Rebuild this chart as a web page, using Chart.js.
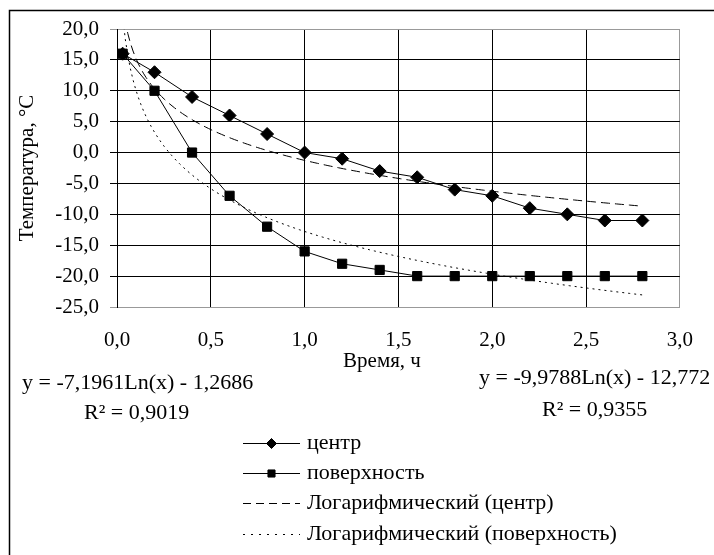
<!DOCTYPE html>
<html>
<head>
<meta charset="utf-8">
<script src="https://cdn.jsdelivr.net/npm/chart.js@4/dist/chart.umd.min.js"></script>
<style>
  html, body { margin: 0; padding: 0; background: #fff; }
</style>
</head>
<body>
<canvas id="tempChart" width="714" height="555"></canvas>
<script>
// время замера, ч
const hours = [0.03, 0.2, 0.4, 0.6, 0.8, 1.0, 1.2, 1.4, 1.6, 1.8, 2.0, 2.2, 2.4, 2.6, 2.8];
// температура в центре и на поверхности, °C
const centerTemp = [16, 13, 9, 6, 3, 0, -1, -3, -4, -6, -7, -9, -10, -11, -11];
const surfaceTemp = [16, 10, 0, -7, -12, -16, -18, -19, -20, -20, -20, -20, -20, -20, -20];
// логарифмические тренды y = a*Ln(x) + b
const centerTrendCoef = [-7.1961, -1.2686];
const surfaceTrendCoef = [-9.9788, -12.772];
const trendR2 = [0.9019, 0.9355];
const xTicks = [0, 3, 0.5];
const yTicks = [-25, 20, 5];

const FONT = 'Liberation Serif, Times New Roman, serif';
const fmt = v => v.toFixed(1).replace('.', ',');
const fmtCoef = v => String(v).replace('.', ',');

function toPoints(xs, ys) {
  return xs.map((x, i) => ({ x: x, y: ys[i] }));
}

// кривая тренда по коэффициентам из подписи
function trendPoints(coef) {
  const pts = [];
  const x0 = hours[0], x1 = hours[hours.length - 1];
  const n = 200;
  for (let i = 0; i <= n; i++) {
    const x = x0 + (x1 - x0) * i / n;
    pts.push({ x: x, y: coef[0] * Math.log(x) + coef[1] });
  }
  return pts;
}

function eqText(coef) {
  return 'y = ' + fmtCoef(coef[0]) + 'Ln(x) - ' + fmtCoef(Math.abs(coef[1]));
}

// подписи, легенда и рамка
const decorPlugin = {
  id: 'decor',
  afterDraw(chart) {
    const ctx = chart.ctx;
    ctx.save();
    ctx.strokeStyle = '#000';
    ctx.lineWidth = 1.5;
    ctx.strokeRect(9.5, 10.5, 760, 600);

    ctx.fillStyle = '#000';
    ctx.font = '21px ' + FONT;
    ctx.textBaseline = 'middle';

    // подпись оси X
    ctx.textAlign = 'center';
    ctx.fillText('Время, ч', 382, 361);

    // подпись оси Y
    ctx.save();
    ctx.translate(27, 168);
    ctx.rotate(-Math.PI / 2);
    ctx.fillText('Температура, °C', 0, 0);
    ctx.restore();

    // уравнения трендов
    ctx.font = '22px ' + FONT;
    ctx.textAlign = 'left';
    ctx.fillText(eqText(centerTrendCoef), 22, 383);
    ctx.fillText('R² = ' + fmtCoef(trendR2[0]), 84, 413);
    ctx.fillText(eqText(surfaceTrendCoef), 479, 378);
    ctx.fillText('R² = ' + fmtCoef(trendR2[1]), 542, 410);

    // легенда
    const rowY = [443, 473, 503, 534];
    chart.data.datasets.forEach((ds, i) => {
      const y = rowY[i];
      ctx.save();
      ctx.strokeStyle = ds.borderColor;
      ctx.lineWidth = 1;
      ctx.setLineDash(ds.legendDash || ds.borderDash || []);
      ctx.beginPath();
      ctx.moveTo(243, y + 0.5);
      ctx.lineTo(300, y + 0.5);
      ctx.stroke();
      ctx.restore();
      if (ds.pointRadius > 0) {
        ctx.save();
        ctx.fillStyle = ds.backgroundColor;
        ctx.strokeStyle = ds.borderColor;
        ctx.lineWidth = 1;
        Chart.helpers.drawPoint(ctx, {
          pointStyle: ds.pointStyle,
          radius: 5,
          rotation: 0,
          borderWidth: 1
        }, 271.5, y + 0.5);
        ctx.restore();
      }
      ctx.fillStyle = '#000';
      ctx.fillText(ds.label, 307, y);
    });
    ctx.restore();
  }
};

const gridColor = (edge) => (c) => (c.tick && edge.includes(c.tick.value)) ? '#999' : '#000';

new Chart(document.getElementById('tempChart'), {
  type: 'scatter',
  data: {
    datasets: [
      {
        label: 'центр',
        data: toPoints(hours, centerTemp),
        showLine: true,
        borderColor: '#000',
        backgroundColor: '#000',
        borderWidth: 1,
        pointStyle: 'rectRot',
        pointRadius: 6.5
      },
      {
        label: 'поверхность',
        data: toPoints(hours, surfaceTemp),
        showLine: true,
        borderColor: '#000',
        backgroundColor: '#000',
        borderWidth: 1,
        pointStyle: 'rect',
        pointRadius: 6.5
      },
      {
        label: 'Логарифмический (центр)',
        data: trendPoints(centerTrendCoef),
        showLine: true,
        borderColor: '#000',
        backgroundColor: '#000',
        borderWidth: 1,
        borderDash: [9, 5],
        legendDash: [8, 5],
        pointRadius: 0
      },
      {
        label: 'Логарифмический (поверхность)',
        data: trendPoints(surfaceTrendCoef),
        showLine: true,
        borderColor: '#000',
        backgroundColor: '#000',
        borderWidth: 1,
        borderDash: [2, 4],
        legendDash: [2, 6],
        pointRadius: 0
      }
    ]
  },
  options: {
    responsive: false,
    animation: false,
    devicePixelRatio: 1,
    layout: { padding: { left: 0, top: 29, right: 27, bottom: 0 } },
    plugins: {
      legend: { display: false },
      tooltip: { enabled: false }
    },
    scales: {
      x: {
        type: 'linear',
        min: xTicks[0],
        max: xTicks[1],
        afterFit: (s) => { s.height = 555 - 307; },
        ticks: {
          stepSize: xTicks[2],
          callback: fmt,
          color: '#000',
          padding: 21,
          maxRotation: 0,
          font: { family: FONT, size: 21 }
        },
        grid: { color: gridColor([3]), lineWidth: 1, drawTicks: false },
        border: { color: '#999', width: 1 }
      },
      y: {
        min: yTicks[0],
        max: yTicks[1],
        afterFit: (s) => { s.width = 117; },
        ticks: {
          stepSize: yTicks[2],
          callback: fmt,
          color: '#000',
          padding: 11,
          font: { family: FONT, size: 21 }
        },
        grid: { color: gridColor([20, -25]), lineWidth: 1, tickLength: 7 },
        border: { color: '#000', width: 1 }
      }
    }
  },
  plugins: [decorPlugin]
});
</script>
</body>
</html>
